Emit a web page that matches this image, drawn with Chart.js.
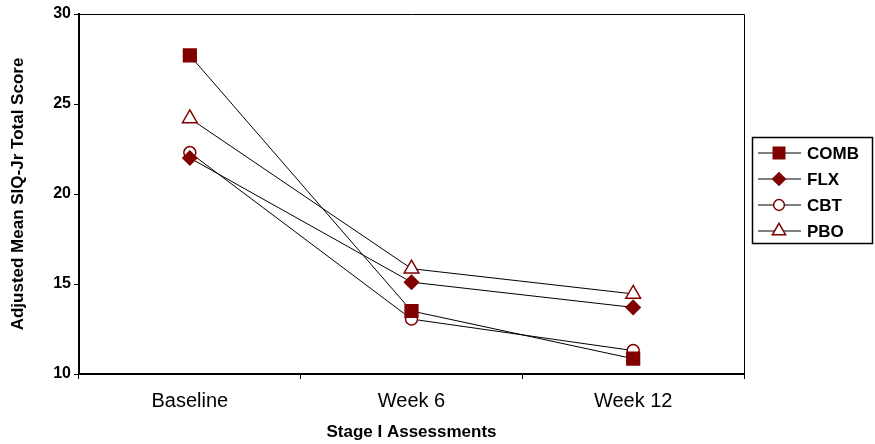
<!DOCTYPE html>
<html>
<head>
<meta charset="utf-8">
<script src="https://cdn.jsdelivr.net/npm/chart.js@4.4.1/dist/chart.umd.min.js"></script>
<style>
  html, body { margin: 0; padding: 0; background: #fff; }
  #wrap { width: 875px; height: 444px; }
</style>
</head>
<body>
<div id="wrap"><canvas id="chart" width="875" height="444"></canvas></div>
<script>
  // Data
  const categories = ['Baseline', 'Week 6', 'Week 12'];
  const comb = [27.7, 13.5, 10.85];
  const flx = [22.0, 15.1, 13.7];
  const cbt = [22.3, 13.05, 11.3];
  const pbo = [24.2, 15.85, 14.45];
  const yTicks = [10, 15, 20, 25, 30];

  const red = '#800000';
  const font = "'Liberation Sans', Arial, sans-serif";

  // Legend box drawn on the right, line + marker like the original
  const boxLegend = {
    id: 'boxLegend',
    afterDraw(chart) {
      const ctx = chart.ctx;
      const area = chart.chartArea;
      ctx.save();
      // top and right frame of the plot
      ctx.strokeStyle = '#000';
      ctx.lineWidth = 1;
      ctx.beginPath();
      ctx.moveTo(area.left, area.top + 0.5);
      ctx.lineTo(area.right + 0.5, area.top + 0.5);
      ctx.lineTo(area.right + 0.5, area.bottom);
      ctx.stroke();

      // legend frame
      ctx.lineWidth = 1.5;
      ctx.strokeRect(752.5, 137.5, 120, 106);

      chart.data.datasets.forEach((ds, i) => {
        const y = 153 + i * 26;
        ctx.strokeStyle = '#000';
        ctx.lineWidth = 1;
        ctx.beginPath();
        ctx.moveTo(758, y);
        ctx.lineTo(801, y);
        ctx.stroke();
        ctx.fillStyle = ds.pointBackgroundColor;
        ctx.strokeStyle = ds.pointBorderColor;
        ctx.lineWidth = ds.pointBorderWidth;
        Chart.helpers.drawPoint(ctx, {
          pointStyle: ds.pointStyle,
          radius: ds.pointRadius * 0.9,
          rotation: 0,
          borderWidth: ds.pointBorderWidth
        }, 779, y);
        ctx.fillStyle = '#000';
        ctx.font = 'bold 17px ' + font;
        ctx.textBaseline = 'middle';
        ctx.textAlign = 'left';
        ctx.fillText(ds.label, 807, y + 1);
      });
      ctx.restore();
    }
  };

  function series(label, data, style, radius, filled) {
    return {
      label: label,
      data: data,
      borderColor: '#000',
      borderWidth: 1,
      pointStyle: style,
      pointRadius: radius,
      pointHoverRadius: radius,
      pointBorderColor: red,
      pointBackgroundColor: filled ? red : '#fff',
      pointBorderWidth: 1.5,
      fill: false,
      tension: 0
    };
  }

  new Chart(document.getElementById('chart'), {
    type: 'line',
    data: {
      labels: categories,
      datasets: [
        series('COMB', comb, 'rect', 9, true),
        series('FLX', flx, 'rectRot', 7, true),
        series('CBT', cbt, 'circle', 6, false),
        series('PBO', pbo, 'triangle', 8.5, false)
      ]
    },
    options: {
      responsive: false,
      animation: false,
      layout: { padding: { top: 14, right: 131, left: 0, bottom: 0 } },
      plugins: {
        legend: { display: false },
        tooltip: { enabled: false }
      },
      scales: {
        x: {
          offset: true,
          grid: { offset: true, drawOnChartArea: false, tickLength: 5, color: '#000', lineWidth: 1 },
          border: { color: '#000', width: 2 },
          ticks: { color: '#000', padding: 10, font: { family: font, size: 20 } },
          title: {
            display: true,
            text: 'Stage I Assessments',
            color: '#000',
            font: { family: font, size: 17, weight: 'bold' },
            padding: { top: 0, bottom: 1 }
          },
          afterFit(scale) { scale.height = 70; }
        },
        y: {
          min: 10,
          max: 30,
          afterBuildTicks(scale) { scale.ticks = yTicks.map(v => ({ value: v })); },
          grid: { drawOnChartArea: false, tickLength: 5, color: '#000', lineWidth: 1 },
          border: { color: '#000', width: 2 },
          ticks: { color: '#000', padding: 3, font: { family: font, size: 16, weight: 'bold' } },
          title: {
            display: true,
            text: 'Adjusted Mean SIQ-Jr Total Score',
            color: '#000',
            font: { family: font, size: 17, weight: 'bold' },
            padding: { top: 8, bottom: 0 }
          },
          afterFit(scale) { scale.width = 79; }
        }
      }
    },
    plugins: [boxLegend]
  });
</script>
</body>
</html>
